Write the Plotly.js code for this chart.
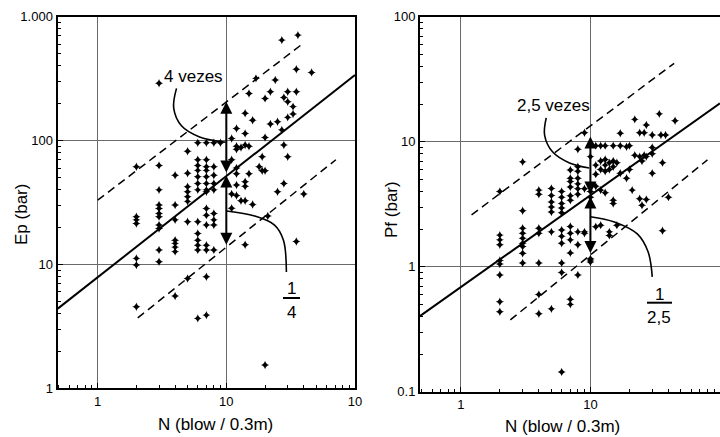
<!DOCTYPE html>
<html>
<head>
<meta charset="utf-8">
<script src="https://cdn.plot.ly/plotly-3.0.1.min.js"></script>
<style>html,body{margin:0;padding:0;background:#fff;}#chart{width:720px;height:437px;}</style>
</head>
<body>
<div id="chart"></div>
<script>
// ---------- Left panel: Ep vs N ----------
const leftN = [
 2,2,2,2,2,2,2,
 3,3,3,3,3,3,3,3,3,3,3,
 4,4,4,4,4,4,4,4,
 5,5,5,5,5,5,5,5,
 6,6,6,6,6,6,6,6,6,6,6,6,6,
 7,7,7,7,7,7,7,7,7,7,7,7,7,7,7,
 8,8,8,8,8,8,8,8,8,
 9,
 11,11,11,11,
 12,12,12,12,12,12,12,
 13,13,
 14,14,14,14,14,14,14,
 15,15,15,
 16,16,
 17,18,19,19,
 20,20,20,20,
 21,22,22,24,25,25,27,27,
 28,28,28,
 30,30,30,30,
 33,33,
 35,35,35,
 36,40,46
];
const leftEp = [
 61.5,24.3,22.9,21.4,11.2,9.9,4.56,
 290,63,40,30.2,28.3,25.8,24.3,20.8,19.5,13.1,10.5,
 52.5,30.2,22.9,15.7,14.8,13.8,12.7,5.56,
 82,54.5,42.4,38.6,35.2,32.3,22.1,7.7,
 96,70,63,57.5,51,45,40,22.1,17.8,15.7,14.3,13.1,3.67,
 96,70,61.5,57.5,51,45,40,38.6,28.3,25,20.8,14.3,13.1,7.95,3.9,
 96,61.5,52.5,45,40,25.8,22.9,20.8,13.1,
 96,
 104,70,37,28.4,
 125,90,85,60,54,43.8,36,
 88,32.7,
 166,114,92,46.5,42.8,32.7,14.4,
 240,90,54,
 146,30.5,
 318,61.5,74,57,
 219,106,57,1.54,
 24.6,248,136,308,142,38.6,647,122,
 223,92,45,
 248,206,154,74,
 188,164,
 376,248,15.3,
 710,37,355
];
const leftFitN = [0.49, 100];
const leftFitEp = [4.4, 338];
const leftUpperN = [1.0, 38];
const leftUpperEp = [33, 590];
const leftLowerN = [2.05, 71];
const leftLowerEp = [3.7, 70];
const leftArrowN = 10;
const leftArrowEp = [14.4, 53.7, 206];   // lower tip, meeting point, upper tip
const leftCalloutTopN = [4.1, 3.9, 4.5, 6.2, 9.9];
const leftCalloutTopEp = [264, 183, 131, 107, 97];
const leftCalloutBotN = [10.05, 16.6, 23.7, 27.8, 29.3];
const leftCalloutBotEp = [27, 24.6, 20.8, 15.7, 8.7];

// ---------- Right panel: Pf vs N ----------
const rightN = [
 2,2,2,2,2,2,2,2,2,
 3,3,3,3,3,3,3,3,3,
 4,4,4,4,4,4,4,
 5,5,5,5,5,5,5,
 6,6,6,6,6,6,6,6,6,6,6,
 7,7,7,7,7,7,7,7,7,7,7,7,
 8,8,8,8,8,8,8,8,8,8,
 9,9,9,9,
 10,10,10,10,10,10,
 11,11,11,11,11,
 12,12,12,12,12,
 13,13,13,13,13,
 14,14,14,14,
 15,15,15,15,15,
 16,16,
 17,17,17,
 19,19,
 20,20,
 21,
 22,22,
 24,24,24,
 25,25,
 26,26,
 27,27,27,
 30,30,30,30,
 34,35,36,36,38,40,45
];
const rightPf = [
 4.0,1.79,1.64,1.5,1.12,1.05,0.86,0.525,0.436,
 6.9,2.8,2.03,1.85,1.69,1.54,1.45,1.28,1.07,
 4.1,3.8,2.03,1.85,1.07,0.6,0.42,
 4.23,3.72,3.3,3.0,2.74,1.9,0.46,
 4.0,3.6,3.2,2.95,2.7,1.97,1.75,1.54,1.07,0.9,0.144,
 5.95,5.1,4.8,4.35,3.7,3.4,2.1,1.85,1.64,1.29,0.55,0.5,
 8.7,6.3,5.8,5.1,4.6,4.2,3.8,1.9,1.5,0.86,
 11.8,4.2,1.9,1.85,
 7.6,4.0,3.6,1.16,1.13,1.09,
 9.3,6.5,5.5,4.4,2.09,
 9.3,7.0,6.0,4.1,2.15,
 9.3,7.2,6.5,5.8,3.9,
 6.8,6.0,1.9,1.78,
 9.3,7.0,6.3,3.4,3.2,
 6.8,2.15,
 11.7,9.3,5.6,
 9.1,5.1,
 9.3,6.0,
 4.1,
 15.1,7.8,
 11.8,7.6,3.5,
 7.0,3.1,
 11.8,7.8,
 13.6,7.6,3.45,
 11.3,9.0,8.0,5.6,
 16.7,11.3,6.8,1.94,11.3,3.6,14.7
];
const rightFitN = [0.48, 100];
const rightFitPf = [0.4, 20.3];
const rightUpperN = [1.21, 44.3];
const rightUpperPf = [2.6, 42.4];
const rightLowerN = [2.41, 80];
const rightLowerPf = [0.375, 7.15];
const rightArrowN = 10;
const rightArrowPf = [1.29, 3.75, 11];
const rightCalloutTopN = [4.56, 4.43, 5.1, 6.9, 9.8];
const rightCalloutTopPf = [15.5, 11.3, 8.3, 6.76, 6.16];
const rightCalloutBotN = [10, 15.3, 23, 27.9, 30];
const rightCalloutBotPf = [2.51, 2.28, 1.83, 1.31, 0.83];

// tick labels
const xTickVals = [1, 10, 100];
const xTickTextLeft = ['1', '10', '10'];
const xTickTextRight = ['1', '10', '100'];
const leftYTickVals = [1, 10, 100, 1000];
const leftYTickText = ['1', '10', '100', '1.000'];
const rightYTickVals = [0.1, 1, 10, 100];
const rightYTickText = ['0.1', '1', '10', '100'];

// minor tick positions (2..9 in each decade)
const minorTicks = [];
[0.1, 1, 10, 100].forEach(d => { for (let k = 2; k <= 9; k++) minorTicks.push(+(k * d).toPrecision(3)); });

const W = 720, H = 437;
const px = v => v / W;
const py = v => 1 - v / H;
const FONT = 'Liberation Sans, Arial, sans-serif';
const lg = Math.log10;

const markerStyle = {symbol: 'star-diamond', size: 6, color: 'black', line: {width: 0}};
const solid = {color: 'black', width: 2};
const dashed = {color: 'black', width: 1.5, dash: '8px,5px'};
const thin = {color: 'black', width: 1.6, shape: 'spline', smoothing: 1};

const traces = [
  {x: leftN, y: leftEp, mode: 'markers', marker: markerStyle, xaxis: 'x', yaxis: 'y'},
  {x: leftFitN, y: leftFitEp, mode: 'lines', line: solid, xaxis: 'x', yaxis: 'y'},
  {x: leftUpperN, y: leftUpperEp, mode: 'lines', line: dashed, xaxis: 'x', yaxis: 'y'},
  {x: leftLowerN, y: leftLowerEp, mode: 'lines', line: dashed, xaxis: 'x', yaxis: 'y'},
  {x: leftCalloutTopN, y: leftCalloutTopEp, mode: 'lines', line: thin, xaxis: 'x', yaxis: 'y'},
  {x: leftCalloutBotN, y: leftCalloutBotEp, mode: 'lines', line: thin, xaxis: 'x', yaxis: 'y'},

  {x: rightN, y: rightPf, mode: 'markers', marker: markerStyle, xaxis: 'x2', yaxis: 'y2'},
  {x: rightFitN, y: rightFitPf, mode: 'lines', line: solid, xaxis: 'x2', yaxis: 'y2'},
  {x: rightUpperN, y: rightUpperPf, mode: 'lines', line: dashed, xaxis: 'x2', yaxis: 'y2'},
  {x: rightLowerN, y: rightLowerPf, mode: 'lines', line: dashed, xaxis: 'x2', yaxis: 'y2'},
  {x: rightCalloutTopN, y: rightCalloutTopPf, mode: 'lines', line: thin, xaxis: 'x2', yaxis: 'y2'},
  {x: rightCalloutBotN, y: rightCalloutBotPf, mode: 'lines', line: thin, xaxis: 'x2', yaxis: 'y2'}
];

function axisBase(extra) {
  return Object.assign({
    type: 'log', showline: true, mirror: true, linecolor: 'black', linewidth: 2,
    showgrid: true, gridcolor: '#6a6a6a', gridwidth: 1, zeroline: false,
    tickmode: 'array', ticks: 'inside', ticklen: 5, tickwidth: 1, tickcolor: 'black',
    tickfont: {family: FONT, size: 13, color: 'black'},
    minor: {tickmode: 'array', tickvals: minorTicks, ticks: 'inside', ticklen: 3, tickwidth: 1, tickcolor: 'black', showgrid: false},
    fixedrange: true
  }, extra);
}

function arrow(xr, yr, n, y0, y1) {
  return {xref: xr, yref: yr, axref: xr, ayref: yr, x: lg(n), y: lg(y1), ax: lg(n), ay: lg(y0),
    text: '', showarrow: true, arrowhead: 2, startarrowhead: 2, arrowside: 'end+start',
    arrowsize: 1.2, arrowwidth: 2, arrowcolor: 'black', standoff: 0, startstandoff: 0};
}

function txt(t, x, y, size, angle) {
  return {xref: 'paper', yref: 'paper', x: px(x), y: py(y), text: t, showarrow: false,
    xanchor: 'center', yanchor: 'middle', textangle: angle || 0,
    font: {family: FONT, size: size || 17, color: 'black'}};
}

const layout = {
  width: W, height: H, margin: {l: 0, r: 0, t: 0, b: 0},
  paper_bgcolor: 'white', plot_bgcolor: 'white', showlegend: false,
  xaxis: axisBase({domain: [px(57.5), px(355)], range: [-0.312, 2.0], anchor: 'y',
    tickvals: xTickVals, ticktext: xTickTextLeft}),
  yaxis: axisBase({domain: [py(388.3), py(16.7)], range: [0, 3], anchor: 'x',
    tickvals: leftYTickVals, ticktext: leftYTickText}),
  xaxis2: axisBase({domain: [px(420), 1], range: [-0.315, 2.0], anchor: 'y2',
    tickvals: xTickVals, ticktext: xTickTextRight}),
  yaxis2: axisBase({domain: [py(391.7), py(16.7)], range: [-1, 2], anchor: 'x2',
    tickvals: rightYTickVals, ticktext: rightYTickText}),
  annotations: [
    arrow('x', 'y', leftArrowN, leftArrowEp[1], leftArrowEp[2]),
    arrow('x', 'y', leftArrowN, leftArrowEp[1], leftArrowEp[0]),
    arrow('x2', 'y2', rightArrowN, rightArrowPf[1], rightArrowPf[2]),
    arrow('x2', 'y2', rightArrowN, rightArrowPf[1], rightArrowPf[0]),
    txt('4 vezes', 193, 76),
    txt('1', 291, 288),
    txt('4', 291, 312),
    txt('2,5 vezes', 553, 105),
    txt('1', 659, 294),
    txt('2,5', 659, 317),
    txt('N (blow / 0.3m)', 215, 424),
    txt('N (blow / 0.3m)', 562, 426),
    txt('Ep (bar)', 21, 215, 17, -90),
    txt('Pf (bar)', 391, 209, 17, -90)
  ],
  shapes: [
    {type: 'line', xref: 'paper', yref: 'paper', x0: px(283), x1: px(300), y0: py(298), y1: py(298), line: {color: 'black', width: 2}},
    {type: 'line', xref: 'paper', yref: 'paper', x0: px(647), x1: px(672), y0: py(302.7), y1: py(302.7), line: {color: 'black', width: 2}}
  ]
};

Plotly.newPlot('chart', traces, layout, {staticPlot: true, displayModeBar: false});
</script>
</body>
</html>
